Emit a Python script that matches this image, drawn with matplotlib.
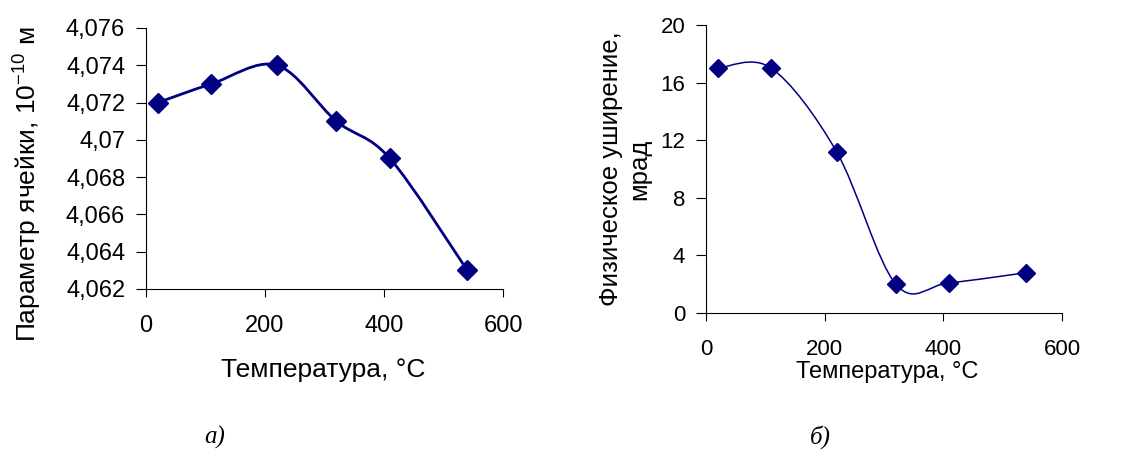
import matplotlib
matplotlib.use('Agg')
import matplotlib.pyplot as plt
from matplotlib.path import Path
from matplotlib.patches import PathPatch
from matplotlib.ticker import FuncFormatter, MultipleLocator

plt.rcParams['font.family'] = ['Liberation Sans', 'DejaVu Sans']
plt.rcParams['mathtext.fontset'] = 'custom'
plt.rcParams['mathtext.rm'] = 'Liberation Sans'
plt.rcParams['mathtext.it'] = 'Liberation Sans'

temp = [20, 110, 220, 320, 410, 540]
cell_param = [4.072, 4.073, 4.074, 4.071, 4.069, 4.063]
broadening = [17.0, 17.0, 11.2, 2.0, 2.1, 2.8]

NAVY = '#000080'


def smooth_path(xs, ys):
    # Excel-like smoothed line: cubic Bezier segments through the points
    n = len(xs)
    verts = [(xs[0], ys[0])]
    codes = [Path.MOVETO]
    for i in range(n - 1):
        x0, y0 = (xs[i - 1], ys[i - 1]) if i > 0 else (xs[i], ys[i])
        x1, y1 = xs[i], ys[i]
        x2, y2 = xs[i + 1], ys[i + 1]
        x3, y3 = (xs[i + 2], ys[i + 2]) if i + 2 < n else (x2, y2)
        c1 = (x1 + (x2 - x0) / 6, y1 + (y2 - y0) / 6)
        c2 = (x2 - (x3 - x1) / 6, y2 - (y3 - y1) / 6)
        verts += [c1, c2, (x2, y2)]
        codes += [Path.CURVE4] * 3
    return Path(verts, codes)


def comma_fmt(v, pos):
    return ('%g' % round(v, 6)).replace('.', ',')


def style_axes(ax, ticksize, xpad):
    ax.spines['top'].set_visible(False)
    ax.spines['right'].set_visible(False)
    ax.tick_params(axis='y', direction='out', length=7, width=0.8, pad=8, labelsize=ticksize)
    ax.tick_params(axis='x', direction='out', length=6, width=0.8, pad=xpad, labelsize=ticksize)
    ax.set_xlim(0, 600)
    ax.xaxis.set_major_locator(MultipleLocator(200))
    ax.yaxis.set_major_formatter(FuncFormatter(comma_fmt))


fig = plt.figure(figsize=(11.37, 4.58), dpi=100)

# panel a
ax1 = fig.add_axes([0.1284, 0.369, 0.314, 0.5699])
style_axes(ax1, 17, 13)
ax1.set_ylim(4.062, 4.076)
ax1.yaxis.set_major_locator(MultipleLocator(0.002))
ax1.add_patch(PathPatch(smooth_path(temp, cell_param), fill=False, edgecolor=NAVY, lw=2.0))
ax1.plot(temp, cell_param, linestyle='none', marker='D', markersize=10.5,
         color=NAVY, clip_on=False)

fig.text(28 / 1137, 1 - 184 / 458, 'Параметр ячейки, 10$^{-10}$ м', rotation=90,
         ha='center', va='center', fontsize=19)
fig.text(323 / 1137, 1 - 370 / 458, 'Температура, °С', ha='center', va='center', fontsize=19)

# panel b
ax2 = fig.add_axes([0.621, 0.3166, 0.313, 0.6288])
style_axes(ax2, 16, 13)
ax2.set_ylim(0, 20)
ax2.yaxis.set_major_locator(MultipleLocator(4))
ax2.add_patch(PathPatch(smooth_path(temp, broadening), fill=False, edgecolor=NAVY, lw=1.1))
ax2.plot(temp, broadening, linestyle='none', marker='D', markersize=9.5,
         color=NAVY, clip_on=False)

fig.text(625 / 1137, 1 - 169 / 458, 'Физическое уширение,\nмрад', rotation=90,
         ha='center', va='center', multialignment='center', fontsize=18.5, linespacing=1.2)
fig.text(887 / 1137, 1 - 372 / 458, 'Температура, °С', ha='center', va='center', fontsize=17)

# captions
fig.text(215 / 1137, 1 - 437 / 458, 'а)', ha='center', va='center', fontsize=18,
         family='Liberation Serif', style='italic')
fig.text(820 / 1137, 1 - 437 / 458, 'б)', ha='center', va='center', fontsize=18,
         family='Liberation Serif', style='italic')

fig.savefig('out.png', dpi=100)
